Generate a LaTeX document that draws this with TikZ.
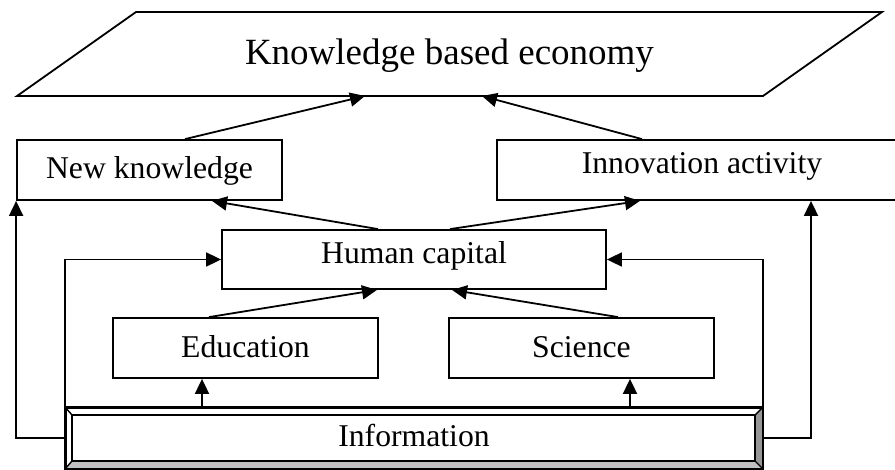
\documentclass[tikz,border=0pt]{standalone}
\usepackage{fontspec}
\setmainfont{Liberation Serif}
\usetikzlibrary{arrows.meta}
\definecolor{bevellight}{RGB}{192,192,192}
\definecolor{beveldark}{RGB}{150,150,150}
\begin{document}
\begin{tikzpicture}[x=1pt,y=-1pt,
  line width=1.8pt,
  box/.style={draw, inner sep=0pt, fill=white,
    font=\fontsize{31.7}{36}\selectfont},
  arr/.style={-{Triangle[length=15pt,width=14pt]}}]
\useasboundingbox (0,0) rectangle (895,469);
\clip (0,0) rectangle (895,469);

% top level: the economy as a parallelogram
\draw (136,12) -- (882,12) -- (763,96) -- (17,96) -- cycle;
\node[anchor=base, inner sep=0pt, font=\fontsize{37}{42}\selectfont]
  (kbe) at (449.5,64) {Knowledge based economy};
\coordinate (kbeA) at (365,96);
\coordinate (kbeB) at (482,96);

% boxes
\node[box, minimum width=265, minimum height=60, text height=16pt, text depth=0pt]
  (nk) at (149.5,170) {New knowledge};
\node[box, minimum width=410, minimum height=60, text height=6pt, text depth=0pt]
  (ia) at (702,170) {Innovation activity};
\node[box, minimum width=384, minimum height=59, text height=7pt, text depth=0pt]
  (hc) at (414,259.5) {Human capital};
\node[box, minimum width=265, minimum height=60, text height=18pt, text depth=0pt]
  (ed) at (245.5,348) {Education};
\node[box, minimum width=265, minimum height=60, text height=18pt, text depth=0pt]
  (sc) at (581.5,348) {Science};
\node[box, minimum width=696, minimum height=60, text height=16pt, text depth=0pt]
  (info) at (414,438) {Information};

% bevelled frame of the information box
\coordinate (iNW) at ([shift={(7pt,-8pt)}]info.north west);
\coordinate (iNE) at ([shift={(-8pt,-8pt)}]info.north east);
\coordinate (iSE) at ([shift={(-8pt,8pt)}]info.south east);
\coordinate (iSW) at ([shift={(7pt,8pt)}]info.south west);
\fill[bevellight] (info.south west) -- (iSW) -- (iSE) -- (info.south east) -- cycle;
\fill[beveldark] (info.north east) -- (iNE) -- (iSE) -- (info.south east) -- cycle;
\draw[line width=1.4pt] (iNW) rectangle (iSE);
\draw[line width=1.4pt] (info.north west) -- (iNW) (info.north east) -- (iNE)
  (info.south east) -- (iSE) (info.south west) -- (iSW);
\draw (info.north west) rectangle (info.south east);

% connectors to the economy
\draw[arr] ([xshift=35.5pt]nk.north) -- (kbeA);
\draw[arr] ([xshift=-60pt]ia.north) -- (kbeB);

% human capital feeds knowledge and innovation
\draw[arr] ([xshift=-36pt]hc.north) -- ([xshift=62.5pt]nk.south);
\draw[arr] ([xshift=36pt]hc.north) -- ([xshift=-62pt]ia.south);

% education and science feed human capital
\draw[arr] ([xshift=-36.5pt]ed.north) -- ([xshift=-37pt]hc.south);
\draw[arr] ([xshift=36.5pt]sc.north) -- ([xshift=38pt]hc.south);

% information feeds everything
\coordinate (edB) at ([xshift=-43.5pt]ed.south);
\coordinate (scB) at ([xshift=48.5pt]sc.south);
\coordinate (iaB) at ([xshift=109pt]ia.south);
\draw[arr] (edB |- info.north) -- (edB);
\draw[arr] (scB |- info.north) -- (scB);
\draw[arr] (info.north west) |- (hc.west);
\draw[arr] (info.north east) |- (hc.east);
\draw[arr] (info.west) -| (nk.south west);
\draw[arr] (info.east) -| (iaB);
\end{tikzpicture}
\end{document}
